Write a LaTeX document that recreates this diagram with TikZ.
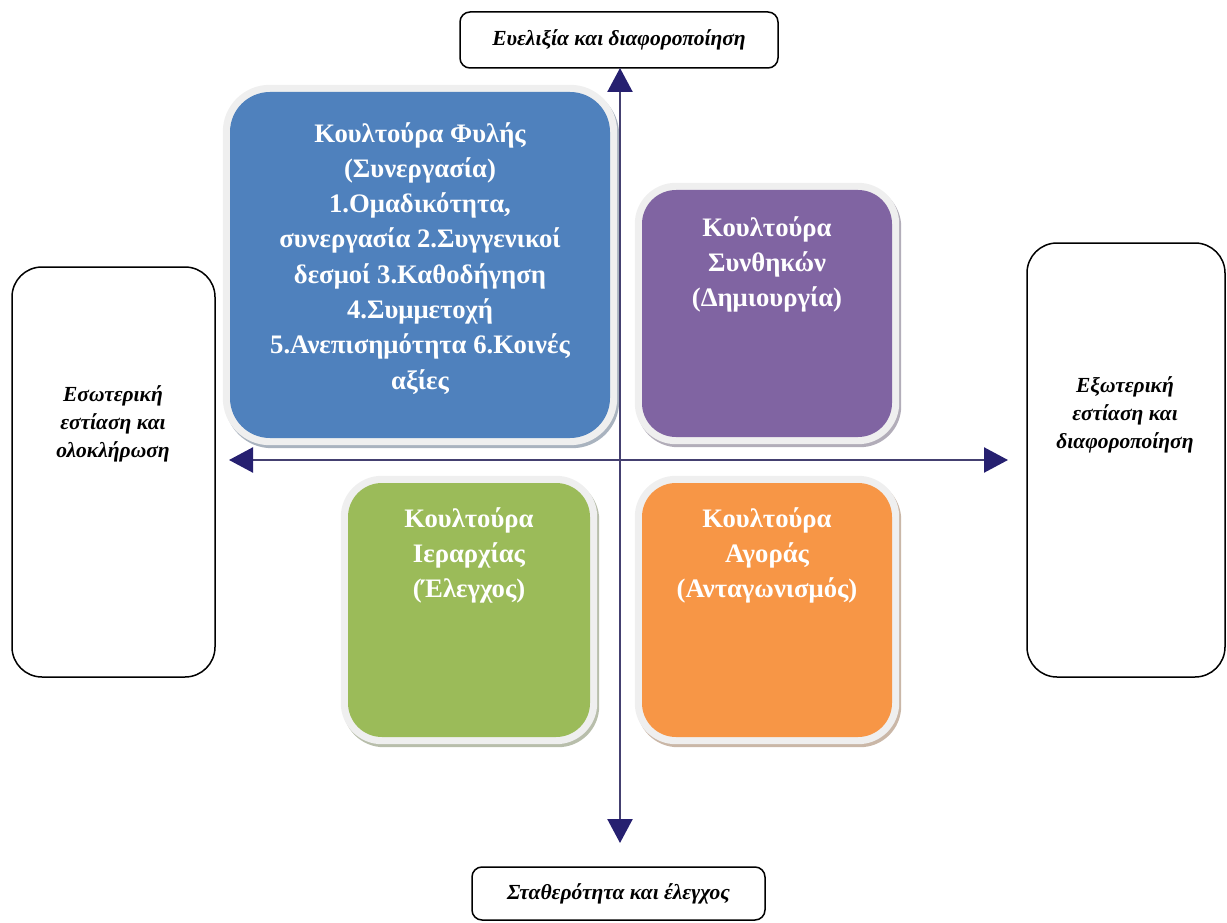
\documentclass[tikz,border=0pt]{standalone}
\usepackage{fontspec}
\setmainfont{Liberation Serif}
\usetikzlibrary{arrows.meta,backgrounds}

\definecolor{tribeblue}{HTML}{4F81BD}
\definecolor{adhocpurple}{HTML}{8064A2}
\definecolor{hiergreen}{HTML}{9BBB59}
\definecolor{marketorange}{HTML}{F79646}
\definecolor{axisline}{HTML}{444070}
\definecolor{axishead}{HTML}{262070}
\definecolor{haloring}{HTML}{EFEFEF}

\tikzset{
  labelbox/.style={draw=black, line width=1.5pt, fill=white, inner sep=0pt},
  labeltext/.style={font=\fontsize{21.5}{28}\selectfont\bfseries\itshape, align=center, inner sep=0pt},
  quadbox/.style={inner sep=0pt, draw=none},
  quadtext/.style={font=\fontsize{26.7}{35.3}\selectfont\bfseries, text=white, align=center, inner sep=0pt, anchor=north},
  axis/.style={draw=axisline, line width=2.4pt,
    arrows={Triangle[length=24pt,width=25pt,color=axishead]-Triangle[length=24pt,width=25pt,color=axishead]}},
}

% soft halo ring and offset shadow behind a quadrant box
\newcommand\quadhalo[3]{%
  \begin{scope}[on background layer]
    \fill[#3!50!black!40, rounded corners=#2+7pt]
      ([shift={(-5pt,4pt)}]#1.north west) rectangle ([shift={(9pt,-10pt)}]#1.south east);
    \fill[haloring, rounded corners=#2+7pt]
      ([shift={(-7pt,7pt)}]#1.north west) rectangle ([shift={(7pt,-7pt)}]#1.south east);
  \end{scope}}

\begin{document}
\begin{tikzpicture}[x=1pt, y=-1pt]
  \useasboundingbox (0,0) rectangle (1227,923);

  % the four culture quadrants
  \node[quadbox, fill=tribeblue, rounded corners=40pt, minimum width=380pt, minimum height=346pt] (tribe) at (420,265) {};
  \node[quadbox, fill=adhocpurple, rounded corners=34pt, minimum width=250pt, minimum height=247pt] (adhoc) at (767,313.5) {};
  \node[quadbox, fill=hiergreen, rounded corners=34pt, minimum width=242pt, minimum height=254pt] (hier) at (469,610) {};
  \node[quadbox, fill=marketorange, rounded corners=34pt, minimum width=250pt, minimum height=254pt] (market) at (767,610) {};
  \quadhalo{tribe}{40pt}{tribeblue}
  \quadhalo{adhoc}{34pt}{adhocpurple}
  \quadhalo{hier}{34pt}{hiergreen}
  \quadhalo{market}{34pt}{marketorange}

  \node[quadtext] (tribetext) at (420,122) {Κουλτούρα Φυλής\\(Συνεργασία)\\1.Ομαδικότητα,\\συνεργασία 2.Συγγενικοί\\δεσμοί 3.Καθοδήγηση\\4.Συμμετοχή\\5.Ανεπισημότητα 6.Κοινές\\αξίες};
  \node[quadtext] (adhoctext) at (767,216) {Κουλτούρα\\Συνθηκών\\(Δημιουργία)};
  \node[quadtext] (hiertext) at (469,507) {Κουλτούρα\\Ιεραρχίας\\(Έλεγχος)};
  \node[quadtext] (markettext) at (767,507) {Κουλτούρα\\Αγοράς\\(Ανταγωνισμός)};

  % dimension labels
  \node[labelbox, rounded corners=10pt, minimum width=318pt, minimum height=56pt] (flex) at (619,40) {};
  \node[labeltext] (flextext) at (flex.center) {Ευελιξία και διαφοροποίηση};
  \node[labelbox, rounded corners=10pt, minimum width=293pt, minimum height=53pt] (stab) at (618.5,893.5) {};
  \node[labeltext] (stabtext) at (stab.center) {Σταθερότητα και έλεγχος};
  \node[labelbox, rounded corners=30pt, minimum width=203pt, minimum height=410pt] (internal) at (113.5,472) {};
  \node[labeltext] (internaltext) at (113,424) {Εσωτερική\\εστίαση και\\ολοκλήρωση};
  \node[labelbox, rounded corners=30pt, minimum width=198pt, minimum height=434pt] (external) at (1126,460) {};
  \node[labeltext] (externaltext) at (1125,415) {Εξωτερική\\εστίαση και\\διαφοροποίηση};

  % axes
  \coordinate (ytop) at (620,68);
  \coordinate (ybot) at (620,843);
  \coordinate (xleft) at (229,460);
  \coordinate (xright) at (1008,460);
  \draw[axis] (ybot) -- (ytop);
  \draw[axis] (xleft) -- (xright);
\end{tikzpicture}
\end{document}
